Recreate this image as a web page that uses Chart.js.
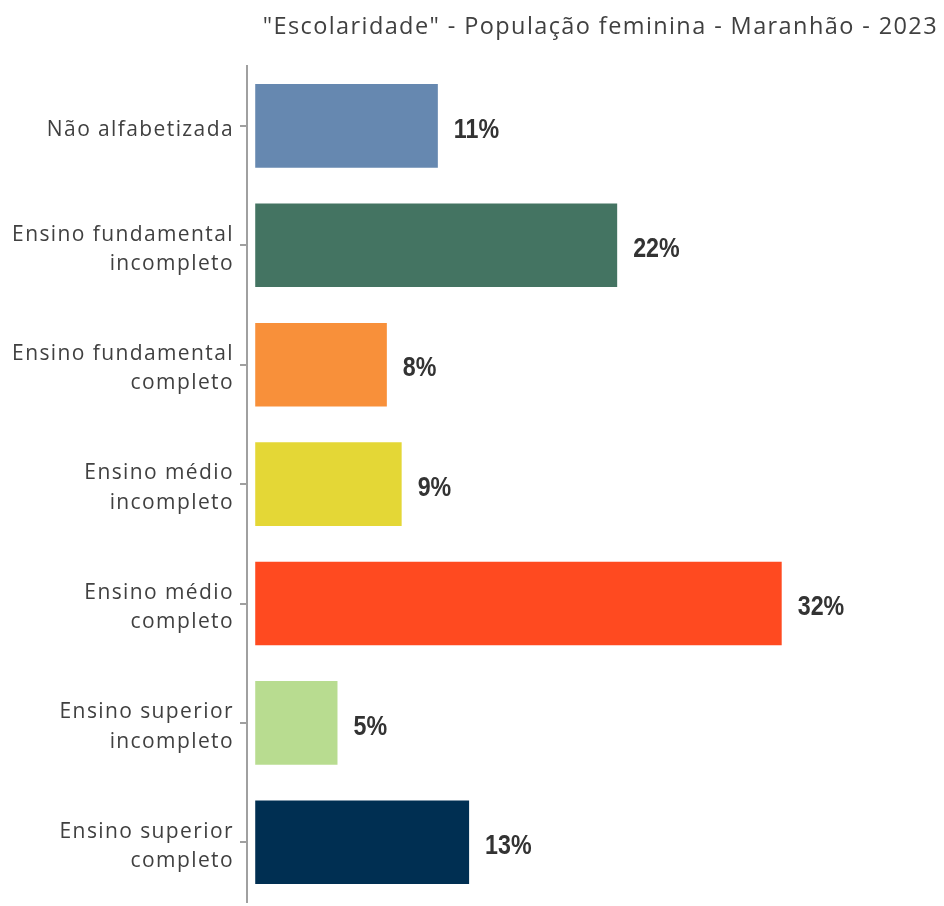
<!DOCTYPE html>
<html><head><meta charset="utf-8">
<script src="https://cdn.jsdelivr.net/npm/chart.js@4/dist/chart.umd.min.js"></script>
<style>html,body{margin:0;padding:0;background:#fff}canvas{display:block}</style>
</head><body>
<canvas id="c" width="944" height="906"></canvas>
<script>
const categories = [
  ["Não alfabetizada"],
  ["Ensino fundamental", "incompleto"],
  ["Ensino fundamental", "completo"],
  ["Ensino médio", "incompleto"],
  ["Ensino médio", "completo"],
  ["Ensino superior", "incompleto"],
  ["Ensino superior", "completo"]
];
const values = [11.1, 22.0, 8.0, 8.9, 32.0, 5.0, 13.0];
const valueLabels = ["11%", "22%", "8%", "9%", "32%", "5%", "13%"];
const colors = ["#6688B0", "#447462", "#F8903A", "#E4D736", "#FF4A20", "#B8DC90", "#002F52"];
const titleText = '"Escolaridade" - População feminina - Maranhão - 2023';

const spacingPlugin = {
  id: 'spacing',
  beforeDraw(chart) { chart.ctx.letterSpacing = '1.4px'; }
};

const labelPlugin = {
  id: 'valueLabels',
  afterDatasetsDraw(chart) {
    const ctx = chart.ctx;
    const meta = chart.getDatasetMeta(0);
    ctx.save();
    ctx.letterSpacing = '0px';
    ctx.font = 'bold 28px "Liberation Sans", Arial, sans-serif';
    ctx.fillStyle = '#333333';
    ctx.textAlign = 'left';
    ctx.textBaseline = 'middle';
    const sx = 0.83;
    meta.data.forEach((bar, i) => {
      ctx.save();
      ctx.translate(bar.x + 16, bar.y + 4);
      ctx.scale(sx, 1);
      ctx.fillText(valueLabels[i], 0, 0);
      ctx.restore();
    });
    ctx.restore();
  }
};

new Chart(document.getElementById('c'), {
  type: 'bar',
  data: {
    labels: categories,
    datasets: [{
      data: values,
      backgroundColor: colors,
      borderWidth: 0,
      categoryPercentage: 1.0,
      barPercentage: 0.7
    }]
  },
  options: {
    indexAxis: 'y',
    responsive: false,
    animation: false,
    layout: { padding: { top: 0, right: 6, bottom: 4, left: 0 } },
    plugins: {
      legend: { display: false },
      tooltip: { enabled: false },
      title: {
        display: true,
        text: titleText,
        align: 'end',
        color: '#404040',
        font: { family: '"Open Sans", sans-serif', size: 23.5, weight: 'normal', lineHeight: 1.2 },
        padding: { top: 13, bottom: 25 }
      }
    },
    scales: {
      x: {
        display: false,
        min: -0.5,
        max: 41.5
      },
      y: {
        afterFit(scale) { scale.width = 247; scale.paddingTop = 0; scale.paddingBottom = 0; },
        grid: { display: true, offset: false, drawOnChartArea: false, drawTicks: true, tickLength: 7, color: '#a0a0a0', lineWidth: 2 },
        border: { display: true, color: '#a0a0a0', width: 2 },
        ticks: {
          color: '#404040',
          padding: 6,
          labelOffset: 4,
          font: { family: '"Open Sans", sans-serif', size: 21, lineHeight: 1.4 }
        }
      }
    }
  },
  plugins: [spacingPlugin, labelPlugin]
});
</script>
</body></html>
